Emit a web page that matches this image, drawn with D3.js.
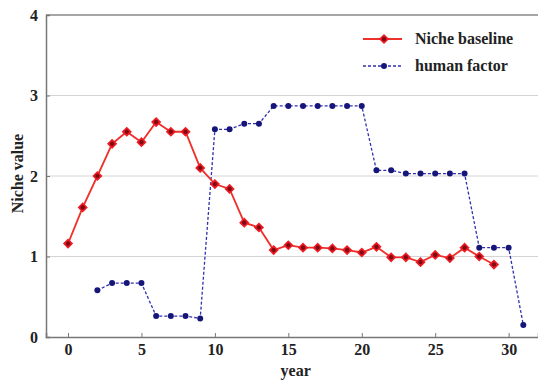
<!DOCTYPE html>
<html>
<head>
<meta charset="utf-8">
<script src="https://cdn.jsdelivr.net/npm/d3@7/dist/d3.min.js"></script>
<style>
  html, body { margin: 0; padding: 0; background: #fff; }
  svg text { font-family: "Liberation Serif", "DejaVu Serif", serif; fill: #222; font-weight: bold; }
</style>
</head>
<body>
<svg id="chart" width="538" height="382"></svg>
<script>
// Niche baseline, years 0..29
const baselineYears = d3.range(0, 30);
const baselineValues = [1.16, 1.61, 2.00, 2.40, 2.55, 2.42, 2.67, 2.55, 2.55, 2.10,
                        1.90, 1.84, 1.42, 1.36, 1.08, 1.14, 1.11, 1.11, 1.10, 1.08,
                        1.05, 1.12, 0.99, 0.99, 0.93, 1.02, 0.98, 1.11, 1.00, 0.90];
// Human factor, years 2..31
const humanYears = d3.range(2, 32);
const humanValues = [0.58, 0.67, 0.67, 0.67, 0.26, 0.26, 0.26, 0.23,
                     2.58, 2.58, 2.65, 2.65, 2.87, 2.87, 2.87, 2.87, 2.87, 2.87, 2.87,
                     2.07, 2.07, 2.03, 2.03, 2.03, 2.03, 2.03,
                     1.11, 1.11, 1.11, 0.15];
const xTicks = [0, 5, 10, 15, 20, 25, 30];
const yTicks = [0, 1, 2, 3, 4];
const seriesNames = ["Niche baseline", "human factor"];

const svg = d3.select("#chart");
const plotLeft = 46, plotRight = 538, plotTop = 15, plotBottom = 337;

const x = d3.scaleLinear().domain([-1.5, 32]).range([plotLeft, plotRight]);
const y = d3.scaleLinear().domain([0, 4]).range([plotBottom, plotTop]);

// horizontal grid
svg.append("g")
  .selectAll("line")
  .data(yTicks.filter(v => v > 0 && v < 4))
  .join("line")
  .attr("x1", plotLeft).attr("x2", plotRight)
  .attr("y1", d => y(d)).attr("y2", d => y(d))
  .attr("stroke", "#d4d4d4").attr("stroke-width", 1);

// frame: top edge
svg.append("line")
  .attr("x1", plotLeft).attr("x2", plotRight).attr("y1", plotTop).attr("y2", plotTop)
  .attr("stroke", "#888").attr("stroke-width", 1.3);

// axes
const xAxis = svg.append("g")
  .attr("transform", `translate(0,${plotBottom})`)
  .call(d3.axisBottom(x).tickValues(xTicks).tickSize(-4).tickPadding(7).tickFormat(d3.format("d")));
const yAxis = svg.append("g")
  .attr("transform", `translate(${plotLeft},0)`)
  .call(d3.axisLeft(y).tickValues(yTicks).tickSize(-4).tickPadding(8).tickFormat(d3.format("d")));
[xAxis, yAxis].forEach(g => {
  g.select(".domain").attr("stroke", "#777").attr("stroke-width", 1.5);
  g.selectAll(".tick line").attr("stroke", "#777");
  g.selectAll("text").attr("font-size", 16).attr("font-family", "Liberation Serif, serif")
    .attr("font-weight", "bold").attr("fill", "#333");
});

// axis labels
svg.append("text")
  .attr("x", x(15.5)).attr("y", 376)
  .attr("text-anchor", "middle").attr("font-size", 16)
  .text("year");
svg.append("text")
  .attr("transform", `translate(23,${y(2.03)}) rotate(-90)`)
  .attr("text-anchor", "middle").attr("font-size", 16)
  .text("Niche value");

const red = "#f0302a", blue = "#3030b0";

// human factor series
const humanData = humanYears.map((yr, i) => [yr, humanValues[i]]);
svg.append("path")
  .datum(humanData)
  .attr("fill", "none").attr("stroke", blue).attr("stroke-width", 1.3)
  .attr("stroke-dasharray", "3,2")
  .attr("d", d3.line().x(d => x(d[0])).y(d => y(d[1])));
svg.append("g").selectAll("circle")
  .data(humanData).join("circle")
  .attr("cx", d => x(d[0])).attr("cy", d => y(d[1])).attr("r", 3)
  .attr("fill", "#16167a");

// niche baseline series
const baseData = baselineYears.map((yr, i) => [yr, baselineValues[i]]);
svg.append("path")
  .datum(baseData)
  .attr("fill", "none").attr("stroke", red).attr("stroke-width", 1.8)
  .attr("d", d3.line().x(d => x(d[0])).y(d => y(d[1])));
// rotated square marker with a dark core
const marker = d3.symbol().type(d3.symbolSquare).size(52);
const bm = svg.append("g").selectAll("g")
  .data(baseData).join("g")
  .attr("transform", d => `translate(${x(d[0])},${y(d[1])}) rotate(45)`);
bm.append("path").attr("d", marker).attr("fill", "#ee1b24");
bm.append("circle").attr("r", 2.2).attr("fill", "#800a12");

// legend
const legend = svg.append("g");
const rows = [
  { name: seriesNames[0], yPos: 39 },
  { name: seriesNames[1], yPos: 66 }
];
legend.append("line").attr("x1", 363).attr("x2", 402).attr("y1", rows[0].yPos).attr("y2", rows[0].yPos)
  .attr("stroke", red).attr("stroke-width", 1.8);
legend.append("path").attr("d", marker).attr("fill", "#ee1b24")
  .attr("transform", `translate(384,${rows[0].yPos}) rotate(45)`);
legend.append("circle").attr("r", 2.2).attr("fill", "#800a12").attr("cx", 384).attr("cy", rows[0].yPos);
legend.append("line").attr("x1", 363).attr("x2", 402).attr("y1", rows[1].yPos).attr("y2", rows[1].yPos)
  .attr("stroke", blue).attr("stroke-width", 1.3).attr("stroke-dasharray", "3,2");
legend.append("circle").attr("r", 3).attr("fill", "#16167a").attr("cx", 384).attr("cy", rows[1].yPos);
legend.selectAll("text").data(rows).join("text")
  .attr("x", 415).attr("y", d => d.yPos + 5)
  .attr("font-size", 16)
  .text(d => d.name);
</script>
</body>
</html>
